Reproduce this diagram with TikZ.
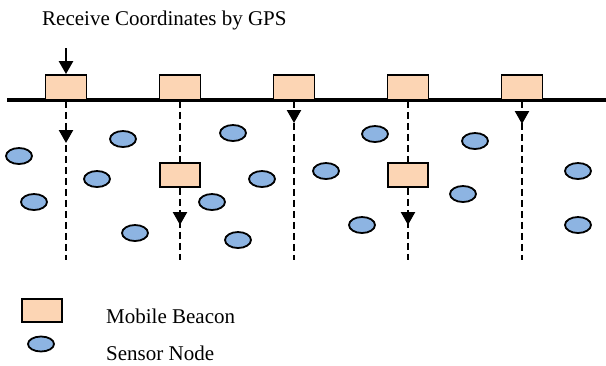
\documentclass[tikz,border=0pt]{standalone}
\usepackage{fontspec}
\setmainfont{Liberation Serif}
\usepackage{tikz}
\usetikzlibrary{shapes.geometric}
\usetikzlibrary{arrows.meta}
\usetikzlibrary{calc}
\definecolor{peach}{HTML}{FCD5B4}
\definecolor{skyblue}{HTML}{8DB4E2}
\tikzset{beacon/.style={draw, fill=peach, line width=1.8pt, minimum width=41pt, minimum height=25pt, inner sep=0pt},
sensor/.style={ellipse, draw, fill=skyblue, line width=1.8pt, minimum width=26pt, minimum height=16pt, inner sep=0pt},
dashline/.style={line width=2.4pt, dash pattern=on 7pt off 4pt},
droparrow/.style={line width=2.4pt, -{Triangle[width=14pt,length=13pt]}}}

\begin{document}
\begin{tikzpicture}[x=1pt, y=-1pt, every node/.style={font=\fontsize{21}{25}\selectfont}]
\useasboundingbox (0,0) rectangle (606,365);
\node (gps) at (42,25) [anchor=base west, inner sep=0pt] {Receive Coordinates by GPS};
\coordinate (l0) at (7,100);
\coordinate (l1) at (606,100);
\draw[line width=4pt] (l0) -- (l1);
\foreach \x in {1,...,5} {
\node (b\x) at ({66+114*(\x-1)},87.5) [beacon] {};
\coordinate (e\x) at ({66+114*(\x-1)},260);
}
\coordinate (g) at (66,48);
\draw[droparrow] (g) -- (b1.north);

\foreach \x/\t in {1/143, 3/123, 5/124} {
\draw[dashline] (b\x.south) -- (e\x);
\coordinate (a\x) at ({66+114*(\x-1)},\t-13);
\coordinate (t\x) at ({66+114*(\x-1)},\t);
\draw[droparrow] (a\x) -- (t\x);
}
\foreach \x in {2, 4} {
\node (m\x) at ({66+114*(\x-1)},175) [beacon, minimum width=40pt, minimum height=24pt] {};
\draw[dashline] (b\x.south) -- (m\x.north);
\draw[dashline] (m\x.south) -- (e\x);
\coordinate (a\x) at ({66+114*(\x-1)},212);
\coordinate (t\x) at ({66+114*(\x-1)},225);
\draw[droparrow] (a\x) -- (t\x);
}

\foreach \p [count=\i] in {(19,156), (123,139), (233,133), (97,179), (34,202), (135,233), (212,202), (238,240), (262,179), (326,171), (375,134), (475,141), (463,194), (362,225), (578,171), (578,225)} {
\node (s\i) at \p [sensor] {};
}

\node (lb) at (42,310.5) [beacon, minimum width=40pt, minimum height=23pt] {};
\node (ls) at (41,344) [sensor, minimum height=15pt] {};
\node (tb) at (106,323) [anchor=base west, inner sep=0pt] {Mobile Beacon};
\node (ts) at (106,360) [anchor=base west, inner sep=0pt] {Sensor Node};
\end{tikzpicture}
\end{document}
